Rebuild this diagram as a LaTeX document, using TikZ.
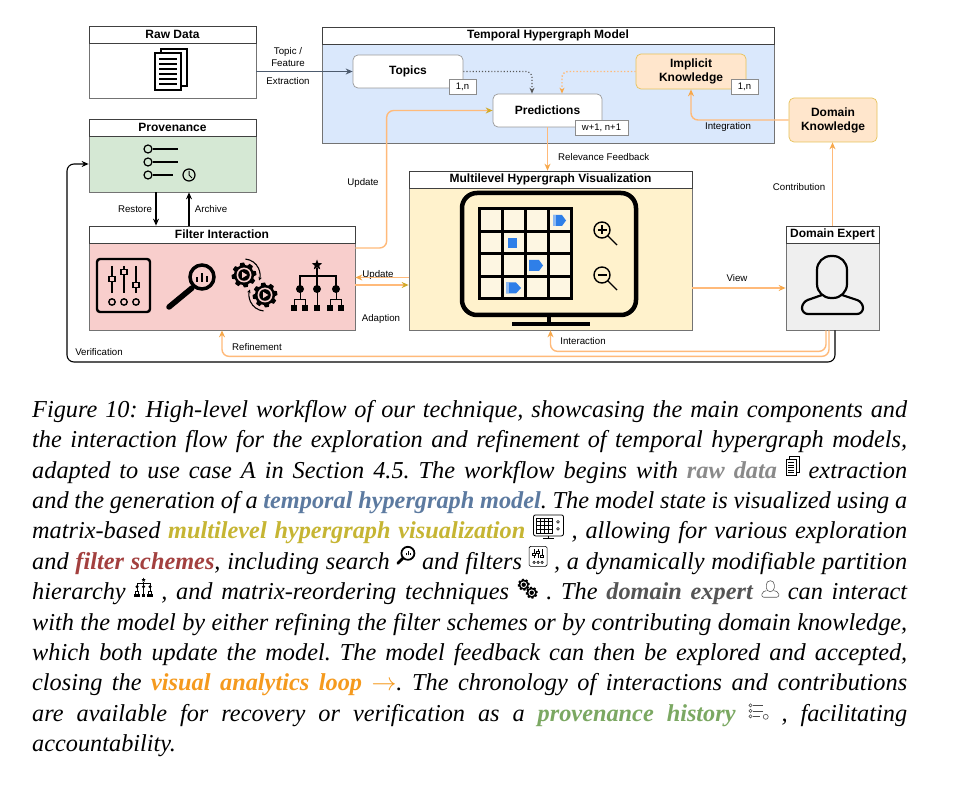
\documentclass[tikz,border=0pt]{standalone}
\usepackage{fontspec}
\setmainfont{Liberation Serif}
\newfontfamily\diagfont{Liberation Sans}
\usetikzlibrary{arrows.meta,calc}

\definecolor{thmblue}{HTML}{DAE8FC}
\definecolor{provgreen}{HTML}{D5E8D4}
\definecolor{filterred}{HTML}{F8CECC}
\definecolor{visyellow}{HTML}{FFF2CC}
\definecolor{knoworange}{HTML}{FFE6CC}
\definecolor{knowborder}{HTML}{E6C25A}
\definecolor{expertgray}{HTML}{EFEFEF}
\definecolor{floworange}{HTML}{FFBA7A}
\definecolor{flowtip}{HTML}{F7A84A}
\definecolor{darkflow}{HTML}{4D5B6E}
\definecolor{iconblue}{HTML}{2F7FE8}
\definecolor{cellfill}{HTML}{FDF6E2}
\definecolor{capgray}{HTML}{8A8A8A}
\definecolor{capblue}{HTML}{5C7AA0}
\definecolor{capyellow}{HTML}{C6B533}
\definecolor{capred}{HTML}{A3403F}
\definecolor{capdark}{HTML}{555555}
\definecolor{caporange}{HTML}{F59A1E}
\definecolor{capgreen}{HTML}{7BA862}

% toothed wheel: x, y, outer radius, inner radius
\newcommand{\gear}[4]{\fill (#1,#2) ++(0:#3) \foreach \ga in {0,45,...,315} { -- ([shift={(\ga:#3)}]#1,#2) -- ([shift={(\ga+18:#3)}]#1,#2) -- ([shift={(\ga+25:#4)}]#1,#2) -- ([shift={(\ga+38:#4)}]#1,#2)} -- cycle;}
\newcommand{\cw}[2]{\textcolor{#1}{\textbf{#2}}}

% small icons for the caption
\newcommand{\icdoc}{\tikz[baseline=-2.5pt,x=1pt,y=1pt,line width=0.7pt]{\draw[fill=white] (3,3) rectangle (13,19); \draw[fill=white] (0,0) rectangle (10,16); \foreach \yy in {3,5.5,8,10.5,13} \draw (2,\yy) -- (8,\yy);}}
\newcommand{\icmon}{\tikz[baseline=-3pt,x=1pt,y=1pt,line width=0.8pt]{\draw[rounded corners=2pt] (0,0) rectangle (30,21); \draw (15,0) -- (15,-2.5) (10,-2.5) -- (20,-2.5); \foreach \gg in {3,7,11,15,19} \draw[line width=0.6pt] (\gg,3) -- (\gg,18); \foreach \gg in {3,6.75,10.5,14.25,18} \draw[line width=0.6pt] (3,\gg) -- (19,\gg); \draw[line width=0.6pt] (24.5,14) circle (1.4pt) (24.5,7) circle (1.4pt);}}
\newcommand{\icsearch}{\tikz[baseline=-3pt,x=1pt,y=1pt]{\draw[line width=1.8pt] (12,13) circle (6.5pt); \draw[line width=2.8pt,line cap=round] (7.3,8.3) -- (2,3); \draw[line width=0.7pt] (10,11) -- (10,13) (12,11) -- (12,15) (14,11) -- (14,13.5);}}
\newcommand{\icslider}{\tikz[baseline=-3pt,x=1pt,y=1pt,line width=0.6pt]{\draw[rounded corners=1.5pt] (0,0) rectangle (18,20); \foreach \sx/\sk in {5/12,9/14,13/10} {\draw (\sx,8) -- (\sx,17); \draw[fill=white] (\sx-1.3,\sk-1) rectangle (\sx+1.3,\sk+1); \draw (\sx,4) circle (1.2pt);}}}
\newcommand{\ictree}{\tikz[baseline=-2pt,x=1pt,y=1pt,line width=0.5pt]{\fill (9,20) -- (9.6,18.6) -- (11,18.4) -- (10,17.4) -- (10.3,16) -- (9,16.7) -- (7.7,16) -- (8,17.4) -- (7,18.4) -- (8.4,18.6) -- cycle; \draw (9,16) -- (9,14.5) (2.5,12) -- (2.5,14.5) -- (15.5,14.5) -- (15.5,12) (9,14.5) -- (9,12); \foreach \tx in {2.5,9,15.5} \fill (\tx,11) circle (1.7pt); \draw (2.5,11) -- (2.5,6.5) (1.1,4) -- (1.1,6.5) -- (3.9,6.5) -- (3.9,4) (9,11) -- (9,4) (15.5,11) -- (15.5,6.5) (14.1,4) -- (14.1,6.5) -- (16.9,6.5) -- (16.9,4); \foreach \tx in {1.1,3.9,9,14.1,16.9} \fill (\tx-1.2,1) rectangle (\tx+1.2,3.6);}}
\newcommand{\icgears}{\tikz[baseline=-2pt,x=1pt,y=1pt]{\gear{6}{13}{6pt}{4.8pt} \fill[white] (6,13) circle (3.3pt); \fill (6,13) circle (2.2pt); \gear{14}{5}{6pt}{4.8pt} \fill[white] (14,5) circle (3.3pt); \fill (14,5) circle (2.2pt);}}
\newcommand{\icuser}{\tikz[baseline=-2pt,x=1pt,y=1pt,line width=0.6pt,black!65]{\draw[rounded corners=2pt] (5,7) -- (0.5,5.5) -- (0.5,0.5) -- (17.5,0.5) -- (17.5,5.5) -- (13,7); \draw[fill=white, rounded corners=4pt] (5,6) rectangle (13,17);}}
\newcommand{\icprov}{\tikz[baseline=-2pt,x=1pt,y=1pt,line width=0.6pt,black!70]{\foreach \pyy in {14,8.5,3} \draw (1.8,\pyy) circle (1.6pt); \draw (4,14) -- (14,14) (4,8.5) -- (14,8.5) (4,3) -- (11,3); \draw (17,2.5) circle (2.5pt);}}

\begin{document}
\begin{tikzpicture}[x=1pt,y=-1pt,
  panel/.style={draw=black!55, line width=0.7pt, inner sep=0pt},
  head/.style={draw=black!75, fill=white, line width=0.7pt, anchor=north, minimum height=17pt, inner sep=0pt, font=\diagfont\bfseries\fontsize{12}{13}\selectfont},
  item/.style={draw=black!40, fill=white, line width=0.7pt, rounded corners=5pt, inner sep=0pt, align=center, font=\diagfont\bfseries\fontsize{12}{14}\selectfont},
  know/.style={item, draw=knowborder, fill=knoworange},
  tag/.style={draw=black!45, fill=white, line width=0.6pt, inner sep=0pt, minimum height=15pt, font=\diagfont\fontsize{9.5}{10}\selectfont},
  lbl/.style={inner sep=0pt, align=center, font=\diagfont\fontsize{9.7}{11.5}\selectfont},
  flowline/.style={draw=floworange, line width=1.4pt, rounded corners=7pt, -{Stealth[length=7pt,width=6pt,color=flowtip]}},
  blackline/.style={draw=black, line width=1.1pt, -{Stealth[length=7pt,width=6pt]}}]
\fill[white] (0,0) rectangle (954,786);
\useasboundingbox (0,0) rectangle (954,786);

% boxes
\node[panel, fill=white, minimum width=167pt, minimum height=72pt] (raw) at (172.5,62) {};
\node[head, minimum width=167pt] (rawtitle) at (raw.north) {Raw Data};
\node[panel, fill=provgreen, minimum width=167pt, minimum height=73pt] (prov) at (172.5,155.5) {};
\node[head, minimum width=167pt] (provtitle) at (prov.north) {Provenance};
\node[panel, fill=thmblue, minimum width=452pt, minimum height=116pt] (thm) at (548,85) {};
\node[head, minimum width=452pt] (thmtitle) at (thm.north) {Temporal Hypergraph Model};
\node[item, minimum width=110pt, minimum height=33pt] (topics) at (408,71.5) {Topics};
\node[tag, minimum width=27pt] (topicstag) at (462.5,87) {1,n};
\node[item, minimum width=109pt, minimum height=33pt] (pred) at (547.5,110.5) {Predictions};
\node[tag, minimum width=53pt] (predtag) at (601.5,127.5) {w+1, n+1};
\node[know, minimum width=110pt, minimum height=35pt] (impl) at (691,71.5) {Implicit\\Knowledge};
\node[tag, minimum width=27pt] (impltag) at (744.5,87) {1,n};
\node[know, minimum width=88pt, minimum height=44pt] (domk) at (833,120) {Domain\\Knowledge};
\node[panel, fill=visyellow, minimum width=283pt, minimum height=159pt] (mlv) at (550.5,250.5) {};
\node[head, minimum width=283pt] (mlvtitle) at (mlv.north) {Multilevel Hypergraph Visualization};
\node[panel, fill=expertgray, minimum width=93pt, minimum height=104pt] (expert) at (832.5,278) {};
\node[head, minimum width=93pt] (experttitle) at (expert.north) {Domain Expert};
\node[panel, fill=filterred, minimum width=266pt, minimum height=104pt] (filter) at (222,278) {};
\node[head, minimum width=266pt] (filtertitle) at (filter.north) {Filter Interaction};

% raw data icon
\draw[line width=1.3pt, fill=white] (161,49) rectangle (187,86);
\draw[line width=1.3pt, fill=white] (155,53) rectangle (181,90);
\foreach \y in {59,64,69,74,79,84} \draw[line width=1.3pt] (159,\y) -- (177,\y);

% provenance icon
\foreach \y in {149,162,175} \draw[line width=1.2pt] (148,\y) circle (4pt);
\draw[line width=1.6pt] (153,149) -- (178,149) (153,162) -- (178,162) (153,175) -- (173,175);
\draw[line width=1.2pt] (189,175) circle (6pt);
\draw[line width=1pt] (189,171) -- (189,175) -- (192,178);

% filter icons
\draw[line width=2.4pt, rounded corners=3pt] (97,259) rectangle (150,312);
\foreach \x/\k in {112/279,124/272,136/285} {
  \draw[line width=1.6pt] (\x,266) -- (\x,293);
  \draw[line width=1.3pt, fill=filterred] (\x-3,\k-2.5) rectangle (\x+3,\k+2.5);
  \draw[line width=1.4pt] (\x,302) circle (3.2pt);
}
\draw[line width=3.5pt] (202,277) circle (12pt);
\draw[line width=5.5pt, line cap=round] (192,288) -- (169,307);
\draw[line width=2pt] (197,282) -- (197,277) (202,282) -- (202,273) (207,282) -- (207,276);
\gear{244}{275}{12.5pt}{10pt}
\fill[filterred] (244,275) circle (7.5pt);
\fill (244,275) circle (5.8pt);
\fill[filterred] (242,271.8) -- (242,278.2) -- (247.3,275) -- cycle;
\gear{265}{295}{12.5pt}{10pt}
\fill[filterred] (265,295) circle (7.5pt);
\fill (265,295) circle (5.8pt);
\fill[filterred] (263,291.8) -- (263,298.2) -- (268.3,295) -- cycle;
\draw[line width=1.1pt, -{Stealth[length=3.5pt,width=3.5pt]}] ([shift={(85:16pt)}]244,275) arc[start angle=85, end angle=-20, radius=16pt];
\draw[line width=1.1pt, -{Stealth[length=3.5pt,width=3.5pt]}] ([shift={(265:16pt)}]265,295) arc[start angle=265, end angle=160, radius=16pt];
\fill (317,259.5) \foreach \ang/\sr in {126/2.3,162/5.5,198/2.3,234/5.5,270/2.3,306/5.5,342/2.3,18/5.5,54/2.3} { -- ([shift={(\ang:\sr pt)}]317,265)} -- cycle;
\draw[line width=1.2pt] (317,268) -- (317,289) (300,289) -- (300,276) -- (336,276) -- (336,289);
\foreach \x in {300,317,336} \fill (\x,289) circle (4pt);
\draw[line width=1pt] (300,289) -- (300,300) (294,305) -- (294,300) -- (305,300) -- (305,305)
  (317,289) -- (317,305) (336,289) -- (336,300) (330,305) -- (330,300) -- (341,300) -- (341,305);
\foreach \x in {294,305,317,330,341} \fill (\x-3,305) rectangle (\x+3,311);

% visualization icon
\fill[cellfill] (479,209) rectangle (571,299);
\foreach \x in {479,502,525,548,571} \draw[line width=3pt, line cap=rect] (\x,209) -- (\x,299);
\foreach \y in {209,231.5,254,276.5,299} \draw[line width=3pt, line cap=rect] (479,\y) -- (571,\y);
\fill[iconblue] (553,215) -- (562,215) -- (566,220.5) -- (562,226) -- (553,226) -- cycle;
\fill[iconblue!55] (553,215) rectangle (556,226);
\fill[iconblue] (508,238) rectangle (517,248);
\fill[iconblue] (529,260) -- (539,260) -- (543,265.5) -- (539,271) -- (529,271) -- cycle;
\fill[iconblue] (506,282.5) -- (516,282.5) -- (521,288) -- (516,293.5) -- (506,293.5) -- cycle;
\fill[iconblue!55] (506,282.5) rectangle (509,293.5);
\draw[line width=4.5pt, rounded corners=15pt] (462,193) rectangle (636,315);
\draw[line width=4pt] (549,315) -- (549,323);
\draw[line width=4pt] (512,324) -- (590,324);
\draw[line width=1.4pt] (602,230) circle (8pt) (608,236) -- (617,245);
\draw[line width=1.2pt] (597.5,230) -- (606.5,230) (602,225.5) -- (602,234.5);
\draw[line width=1.4pt] (602,275) circle (8pt) (608,281) -- (617,290);
\draw[line width=1.2pt] (597.5,275) -- (606.5,275);

% domain expert icon
\draw[line width=2.2pt, rounded corners=6pt] (822,295) -- (802,302) -- (802,314) -- (863,314) -- (863,302) -- (842,295);
\draw[line width=2.2pt, fill=expertgray, rounded corners=14pt] (817,256) rectangle (847,298);

% connectors
\draw[darkflow, line width=1.3pt, -{Stealth[length=7pt,width=6pt]}] (raw.east |- topics.west) -- (topics.west);
\node[lbl] (lblfeat) at (288,57) {Topic /\\Feature};
\node[lbl] (lblextr) at (288,81) {Extraction};
\draw[black!65, dotted, line width=1.1pt, rounded corners=6pt, -{Stealth[length=6pt,width=5pt]}] (topics.east) -| ([xshift=-15.5pt]pred.north);
\draw[floworange, dotted, line width=1.4pt, rounded corners=6pt, -{Stealth[length=6pt,width=5pt,color=flowtip]}] (impl.west) -| ([xshift=14.5pt]pred.north);
\draw[flowline, -{Stealth[length=7pt,width=6pt,color=capyellow!80!orange]}] ([yshift=30pt]filter.east) -| ([xshift=-106pt]pred.west) -- (pred.west);
\node[lbl] (lblupdmodel) at (363,183) {Update};
\draw[flowline] (pred.south) -- (pred.south |- mlv.north);
\node[lbl, anchor=west] (lblrel) at (558,157) {Relevance Feedback};
\draw[flowline] (domk.west) -| (impl.south);
\node[lbl] (lblint) at (728,127) {Integration};
\draw[flowline] (expert.north) -- (expert.north |- domk.south);
\node[lbl] (lblcon) at (799,187) {Contribution};
\coordinate (viewstart) at ([yshift=-37.5pt]mlv.east);
\draw[flowline] (viewstart) -- (viewstart -| expert.west);
\node[lbl] (lblview) at (737,278) {View};
\coordinate (updstart) at ([yshift=-7pt]filter.east);
\draw[flowline, -{Stealth[length=7pt,width=6pt,color=capyellow!80!orange]}] (updstart) -- (updstart -| mlv.west);
\node[lbl] (lblupdvis) at (378,275) {Update};
\coordinate (adpstart) at ([yshift=-27pt]mlv.west);
\draw[flowline] (adpstart) -- (adpstart -| filter.east);
\node[lbl] (lbladp) at (381,319) {Adaption};
\coordinate (rststart) at ([xshift=-16.5pt]prov.south);
\draw[blackline] (rststart) -- (rststart |- filter.north);
\node[lbl] (lblrst) at (135,209) {Restore};
\coordinate (arcstart) at ([xshift=-33pt]filter.north);
\draw[blackline] (arcstart) -- (arcstart |- prov.south);
\node[lbl] (lblarc) at (211,209) {Archive};
\coordinate (verif) at (67,362);
\draw[blackline, rounded corners=7pt] ([xshift=2.5pt]expert.south) |- (verif) |- ([yshift=-8.5pt]prov.west);
\node[lbl] (lblver) at (99,352) {Verification};
\draw[flowline] ([xshift=-3.5pt]expert.south) |- ([yshift=-26pt]filter.south) -- (filter.south);
\node[lbl] (lblref) at (257,347) {Refinement};
\draw[flowline] ([xshift=-6.5pt]expert.south) |- ([yshift=-21pt]mlv.south) -- (mlv.south);
\node[lbl] (lblinter) at (583,341) {Interaction};

% caption
\node[anchor=north west, text width=875pt, inner sep=0pt, align=justify,
  font=\fontsize{24.3}{30.4}\selectfont\itshape\frenchspacing] (caption) at (32,400) {%
Figure 10: High-level workflow of our technique, showcasing the main components and\linebreak
the interaction flow for the exploration and refinement of temporal hypergraph models,\linebreak
adapted to use case A in Section 4.5. The workflow begins with \cw{capgray}{raw data} \icdoc{} extraction\linebreak
and the generation of a \cw{capblue}{temporal hypergraph model}. The model state is visualized using a\linebreak
matrix-based \cw{capyellow}{multilevel hypergraph visualization} \icmon{} , allowing for various exploration\linebreak
and \cw{capred}{filter schemes}, including search \icsearch{} and filters \icslider{} , a dynamically modifiable partition\linebreak
hierarchy \ictree{} , and matrix-reordering techniques \icgears{} . The \cw{capdark}{domain expert} \icuser{} can interact\linebreak
with the model by either refining the filter schemes or by contributing domain knowledge,\linebreak
which both update the model. The model feedback can then be explored and accepted,\linebreak
closing the \cw{caporange}{visual analytics loop $\rightarrow$}. The chronology of interactions and contributions\linebreak
are available for recovery or verification as a \cw{capgreen}{provenance history} \icprov{} , facilitating\linebreak
accountability.};
\end{tikzpicture}
\end{document}
